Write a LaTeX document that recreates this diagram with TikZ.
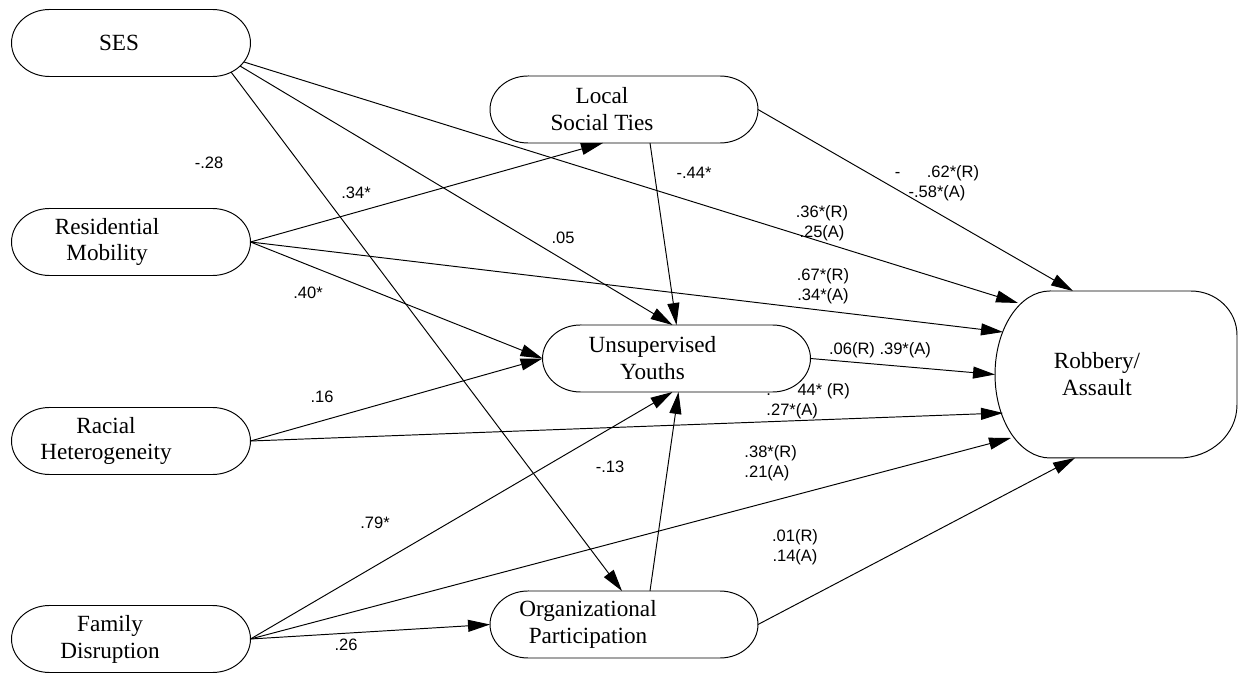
\documentclass[tikz,border=0pt]{standalone}
\usepackage{fontspec}
\setmainfont{Liberation Serif}
\newfontfamily\numfont{Liberation Sans}
\usetikzlibrary{arrows.meta,calc}

\begin{document}
\begin{tikzpicture}[x=0.02cm, y=0.02cm, line width=0.55pt,
            var/.style={minimum width=4.78cm, minimum height=1.34cm, inner sep=0pt, outer sep=0pt},
            wide/.style={minimum width=5.36cm},
            vname/.style={font=\fontsize{13.2}{15.3}\selectfont, align=center},
            coef/.style={font=\numfont\fontsize{9.4}{11.3}\selectfont, align=center, inner sep=0pt},
            arr/.style={-{Triangle[length=0.44cm, width=0.24cm]}}]
    \useasboundingbox (0,0) rectangle (1238,673);

    % variables
    \node[var, label={[vname, xshift=-0.24cm]center:SES}] (ses) at (131,630) {};
    \node[var, label={[vname, xshift=-0.48cm]center:Residential\\Mobility}] (mob) at (131,431) {};
    \node[var, label={[vname, xshift=-0.5cm]center:Racial\\Heterogeneity}] (het) at (131,232) {};
    \node[var, label={[vname, xshift=-0.42cm]center:Family\\Disruption}] (fam) at (131,34) {};
    \node[var, wide, label={[vname, xshift=-0.44cm]center:Local\\Social Ties}] (ties) at (624,563.5) {};
    \node[var, wide, label={[vname, xshift=-0.48cm]center:Unsupervised\\Youths}] (youth) at (676.5,314.5) {};
    \node[var, wide, label={[vname, xshift=-0.72cm]center:Organizational\\Participation}] (org) at (624,48.5) {};
    \node[var, minimum width=4.84cm, minimum height=3.34cm,
          label={[vname, xshift=-0.38cm]center:Robbery/\\Assault}] (rob) at (1116,298.5) {};

    \foreach \n in {ses,mob,het,fam,ties,youth,org}
        \draw ($(\n.north west)+(38,0)$) -- ($(\n.north east)+(-38,0)$)
            arc[start angle=90, end angle=-90, x radius=38, y radius=33.5]
            -- ($(\n.south west)+(38,0)$)
            arc[start angle=270, end angle=90, x radius=38, y radius=33.5] -- cycle;
    \draw ($(rob.north west)+(55,0)$) -- ($(rob.north east)+(-46,0)$)
        arc[start angle=90, end angle=0, x radius=46, y radius=44]
        -- ($(rob.south east)+(0,53)$)
        arc[start angle=0, end angle=-90, x radius=58, y radius=53]
        -- ($(rob.south west)+(55,0)$)
        arc[start angle=270, end angle=90, x radius=55, y radius=83.5] -- cycle;

    % paths
    \draw[arr] ($(ses)+(113,-19)$) -- ($(rob)+(-98,71.5)$);
    \draw[arr] ($(ses)+(109,-23)$) -- ($(youth.north)+(-4,0)$);
    \draw[arr] ($(ses)+(100,-29)$) -- ($(org.north)+(-2,0)$);
    \draw[arr] (mob.east) -- ($(ties.south)+(-21,0)$);
    \draw[arr] (mob.east) -- (youth.west);
    \draw[arr] (mob.east) -- ($(rob)+(-113,42.5)$);
    \draw[arr] (het.east) -- (youth.west);
    \draw[arr] (het.east) -- ($(rob)+(-113,-38.5)$);
    \draw[arr] (fam.east) -- ($(youth.south)+(-4,0)$);
    \draw[arr] (fam.east) -- ($(rob)+(-105,-63.5)$);
    \draw[arr] (fam.east) -- (org.west);
    \draw[arr] (ties.east) -- ($(rob.north)+(-43,0)$);
    \draw[arr] ($(ties.south)+(26,0)$) -- (youth.north);
    \draw[arr] (youth.east) -- (rob.west);
    \draw[arr] ($(org.north)+(26,0)$) -- ($(youth.south)+(2,0)$);
    \draw[arr] (org.east) -- ($(rob.south)+(-41,0)$);

    % coefficients
    \node[coef] (c-sm) at (209,510) {-.28};
    \node[coef] (c-so) at (356,480) {.34*};
    \node[coef] (c-sy) at (563,435) {.05};
    \node[coef] (c-ty) at (694,500) {-.44*};
    \node[coef] (c-tr) at (937,489.5) {-\hspace{1.6em}.62*(R)\\-.58*(A)};
    \node[coef] (c-sr) at (822,450) {.36*(R)\\.25(A)};
    \node[coef] (c-mr) at (823,387) {.67*(R)\\.34*(A)};
    \node[coef] (c-my) at (308,380) {.40*};
    \node[coef] (c-hy) at (322,276) {.16};
    \node[coef] (c-yr) at (880,323) {.06(R) .39*(A)};
    \node[coef, anchor=west, align=left] (c-hr) at (766,272) {.\hspace{1.6em}44* (R)\\.27*(A)};
    \node[coef, anchor=west, align=left] (c-fr) at (744,210) {.38*(R)\\.21(A)};
    \node[coef] (c-or) at (795,126) {.01(R)\\.14(A)};
    \node[coef] (c-oy) at (610,206) {-.13};
    \node[coef] (c-fy) at (375,150) {.79*};
    \node[coef] (c-fo) at (346,28) {.26};
\end{tikzpicture}
\end{document}
